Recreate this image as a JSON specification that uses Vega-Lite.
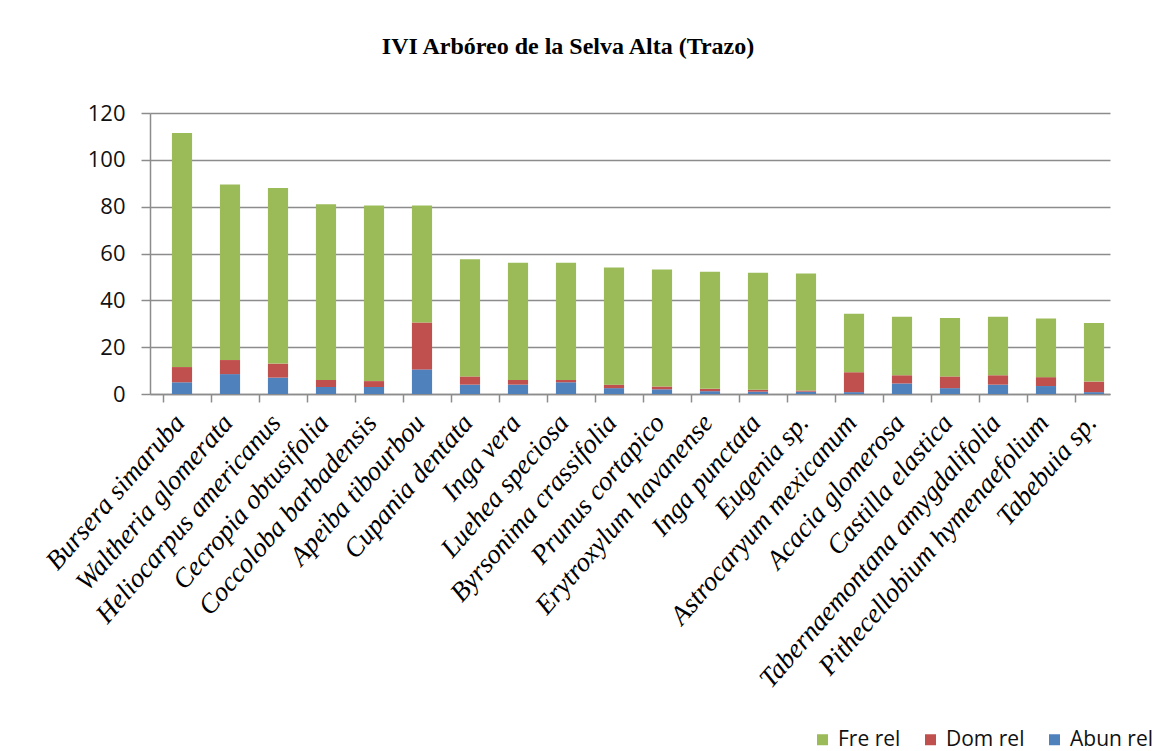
{
  "$schema": "https://vega.github.io/schema/vega-lite/v6.json",
  "autosize": "none",
  "width": 960,
  "height": 281,
  "padding": {"left": 150, "top": 113, "right": 52, "bottom": 357},
  "background": "white",
  "title": {
    "text": "IVI Arbóreo de la Selva Alta (Trazo)",
    "font": "Liberation Serif",
    "fontSize": 24,
    "fontWeight": "bold",
    "color": "black",
    "anchor": "middle",
    "frame": "group",
    "dx": -62,
    "offset": 43
  },
  "data": {
    "values": [
      {"especie": "Bursera simaruba", "serie": "Abun rel", "valor": 5},
      {"especie": "Bursera simaruba", "serie": "Dom rel", "valor": 6.5},
      {"especie": "Bursera simaruba", "serie": "Fre rel", "valor": 100},
      {"especie": "Waltheria glomerata", "serie": "Abun rel", "valor": 8.5},
      {"especie": "Waltheria glomerata", "serie": "Dom rel", "valor": 6},
      {"especie": "Waltheria glomerata", "serie": "Fre rel", "valor": 75},
      {"especie": "Heliocarpus americanus", "serie": "Abun rel", "valor": 7},
      {"especie": "Heliocarpus americanus", "serie": "Dom rel", "valor": 6},
      {"especie": "Heliocarpus americanus", "serie": "Fre rel", "valor": 75},
      {"especie": "Cecropia obtusifolia", "serie": "Abun rel", "valor": 3},
      {"especie": "Cecropia obtusifolia", "serie": "Dom rel", "valor": 3},
      {"especie": "Cecropia obtusifolia", "serie": "Fre rel", "valor": 75},
      {"especie": "Coccoloba barbadensis", "serie": "Abun rel", "valor": 3},
      {"especie": "Coccoloba barbadensis", "serie": "Dom rel", "valor": 2.5},
      {"especie": "Coccoloba barbadensis", "serie": "Fre rel", "valor": 75},
      {"especie": "Apeiba tibourbou", "serie": "Abun rel", "valor": 10.5},
      {"especie": "Apeiba tibourbou", "serie": "Dom rel", "valor": 20},
      {"especie": "Apeiba tibourbou", "serie": "Fre rel", "valor": 50},
      {"especie": "Cupania dentata", "serie": "Abun rel", "valor": 4},
      {"especie": "Cupania dentata", "serie": "Dom rel", "valor": 3.5},
      {"especie": "Cupania dentata", "serie": "Fre rel", "valor": 50},
      {"especie": "Inga vera", "serie": "Abun rel", "valor": 4},
      {"especie": "Inga vera", "serie": "Dom rel", "valor": 2},
      {"especie": "Inga vera", "serie": "Fre rel", "valor": 50},
      {"especie": "Luehea speciosa", "serie": "Abun rel", "valor": 5},
      {"especie": "Luehea speciosa", "serie": "Dom rel", "valor": 1},
      {"especie": "Luehea speciosa", "serie": "Fre rel", "valor": 50},
      {"especie": "Byrsonima crassifolia", "serie": "Abun rel", "valor": 2.5},
      {"especie": "Byrsonima crassifolia", "serie": "Dom rel", "valor": 1.5},
      {"especie": "Byrsonima crassifolia", "serie": "Fre rel", "valor": 50},
      {"especie": "Prunus cortapico", "serie": "Abun rel", "valor": 2},
      {"especie": "Prunus cortapico", "serie": "Dom rel", "valor": 1.2},
      {"especie": "Prunus cortapico", "serie": "Fre rel", "valor": 50},
      {"especie": "Erytroxylum havanense", "serie": "Abun rel", "valor": 1.2},
      {"especie": "Erytroxylum havanense", "serie": "Dom rel", "valor": 1},
      {"especie": "Erytroxylum havanense", "serie": "Fre rel", "valor": 50},
      {"especie": "Inga punctata", "serie": "Abun rel", "valor": 1},
      {"especie": "Inga punctata", "serie": "Dom rel", "valor": 0.8},
      {"especie": "Inga punctata", "serie": "Fre rel", "valor": 50},
      {"especie": "Eugenia sp.", "serie": "Abun rel", "valor": 1},
      {"especie": "Eugenia sp.", "serie": "Dom rel", "valor": 0.5},
      {"especie": "Eugenia sp.", "serie": "Fre rel", "valor": 50},
      {"especie": "Astrocaryum mexicanum", "serie": "Abun rel", "valor": 0.8},
      {"especie": "Astrocaryum mexicanum", "serie": "Dom rel", "valor": 8.5},
      {"especie": "Astrocaryum mexicanum", "serie": "Fre rel", "valor": 25},
      {"especie": "Acacia glomerosa", "serie": "Abun rel", "valor": 4.5},
      {"especie": "Acacia glomerosa", "serie": "Dom rel", "valor": 3.5},
      {"especie": "Acacia glomerosa", "serie": "Fre rel", "valor": 25},
      {"especie": "Castilla elastica", "serie": "Abun rel", "valor": 2.5},
      {"especie": "Castilla elastica", "serie": "Dom rel", "valor": 5},
      {"especie": "Castilla elastica", "serie": "Fre rel", "valor": 25},
      {"especie": "Tabernaemontana amygdalifolia", "serie": "Abun rel", "valor": 4},
      {"especie": "Tabernaemontana amygdalifolia", "serie": "Dom rel", "valor": 4},
      {"especie": "Tabernaemontana amygdalifolia", "serie": "Fre rel", "valor": 25},
      {"especie": "Pithecellobium hymenaefolium", "serie": "Abun rel", "valor": 3.4},
      {"especie": "Pithecellobium hymenaefolium", "serie": "Dom rel", "valor": 3.8},
      {"especie": "Pithecellobium hymenaefolium", "serie": "Fre rel", "valor": 25},
      {"especie": "Tabebuia sp.", "serie": "Abun rel", "valor": 0.8},
      {"especie": "Tabebuia sp.", "serie": "Dom rel", "valor": 4.5},
      {"especie": "Tabebuia sp.", "serie": "Fre rel", "valor": 25}
    ]
  },
  "mark": {"type": "bar", "xOffset": 8, "stroke": null},
  "encoding": {
    "x": {
      "field": "especie",
      "type": "nominal",
      "sort": null,
      "title": null,
      "scale": {"paddingInner": 0.58, "paddingOuter": 0.29},
      "axis": {
        "bandPosition": 0,
        "labelAngle": -49,
        "labelFont": "Liberation Serif",
        "labelFontStyle": "italic",
        "labelFontSize": 27,
        "labelColor": "black",
        "labelPadding": 16,
        "labelOffset": 6,
        "labelLimit": 400,
        "tickSize": 8,
        "tickColor": "#8c8c8c",
        "domainColor": "#8c8c8c",
        "domainWidth": 1.5,
        "tickWidth": 1.5,
        "grid": false
      }
    },
    "y": {
      "field": "valor",
      "type": "quantitative",
      "stack": "zero",
      "title": null,
      "scale": {"domain": [0, 120], "nice": false},
      "axis": {
        "values": [0, 20, 40, 60, 80, 100, 120],
        "labelFont": "Open Sans",
        "labelFontSize": 22,
        "labelColor": "#111111",
        "labelPadding": 16,
        "tickSize": 9,
        "tickColor": "#8c8c8c",
        "tickWidth": 1.5,
        "domainColor": "#8c8c8c",
        "domainWidth": 1.5,
        "gridColor": "#8c8c8c",
        "gridWidth": 1.5
      }
    },
    "color": {
      "field": "serie",
      "type": "nominal",
      "scale": {
        "domain": ["Fre rel", "Dom rel", "Abun rel"],
        "range": ["#9BBB59", "#C0504D", "#4F81BD"]
      },
      "legend": {
        "title": null,
        "orient": "none",
        "direction": "horizontal",
        "legendX": 662,
        "legendY": 616,
        "symbolType": "square",
        "symbolSize": 121,
        "symbolStrokeWidth": 0,
        "labelFont": "Open Sans",
        "labelFontSize": 21,
        "labelColor": "#111111",
        "columnPadding": 19,
        "labelOffset": 5
      }
    },
    "order": {"field": "serie", "sort": "ascending"}
  },
  "config": {"view": {"stroke": null}}
}
